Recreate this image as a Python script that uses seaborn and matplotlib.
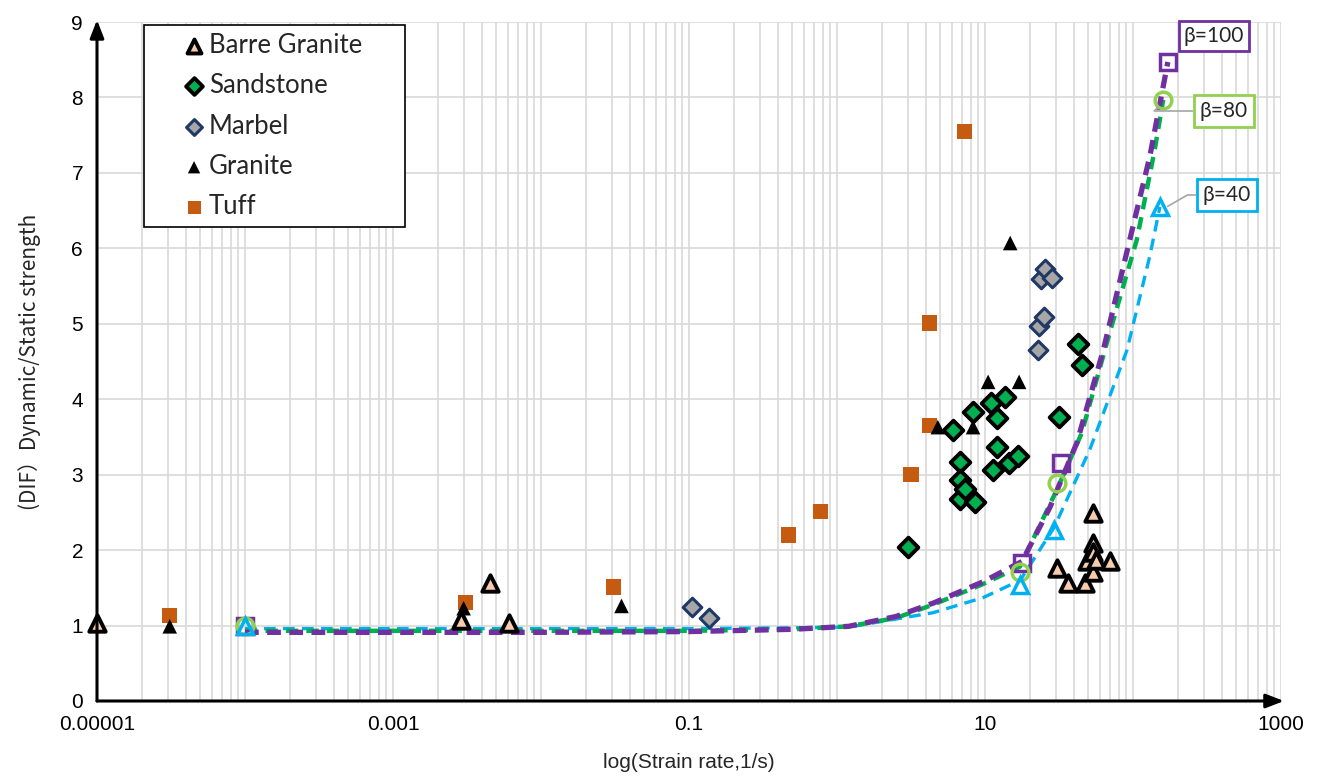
import matplotlib
matplotlib.use("Agg")
import matplotlib.pyplot as plt
import seaborn as sns
import numpy as np
import pandas as pd
from matplotlib.ticker import LogLocator, FixedLocator, NullFormatter, FixedFormatter
from matplotlib.legend_handler import HandlerPathCollection
from matplotlib.collections import PathCollection

# ---------------- data ----------------
barre_x = [1e-5, 0.0029, 0.0045, 0.0061, 30.7, 36.5, 47.5, 48.9, 53.7, 53.7, 53.7, 53.7, 56, 70]
barre_y = [1.03, 1.07, 1.56, 1.03, 1.76, 1.56, 1.56, 1.86, 2.49, 2.09, 1.98, 1.71, 1.87, 1.86]

sand_x = [3.0, 6.1, 6.8, 6.8, 6.8, 7.3, 8.3, 8.6, 11.0, 11.3, 12.0, 12.0, 13.6, 14.5, 16.6, 31.7, 42.5, 45.2]
sand_y = [2.04, 3.59, 3.17, 2.93, 2.68, 2.81, 3.83, 2.64, 3.95, 3.06, 3.75, 3.37, 4.03, 3.16, 3.25, 3.77, 4.73, 4.46]

marb_x = [0.105, 0.136, 22.9, 23.2, 24.0, 25.2, 25.4, 28.3]
marb_y = [1.25, 1.10, 4.65, 4.97, 5.60, 5.09, 5.72, 5.61]

gran_x = [3.1e-5, 0.0030, 0.035, 4.8, 8.3, 10.5, 14.8, 17.0]
gran_y = [0.99, 1.23, 1.26, 3.63, 3.63, 4.23, 6.07, 4.23]

tuff_x = [3.1e-5, 0.0031, 0.031, 0.47, 0.77, 3.16, 4.2, 4.2, 7.3]
tuff_y = [1.13, 1.31, 1.51, 2.20, 2.51, 3.00, 3.65, 5.01, 7.55]

b100_x = [1e-4, 1e-3, 1e-2, 0.1, 0.5, 1.2, 2.5, 4.5, 9.7, 17.8, 27.5, 41.7, 63, 95, 130, 172]
b100_y = [0.91, 0.91, 0.91, 0.92, 0.95, 0.99, 1.12, 1.30, 1.58, 1.85, 2.57, 3.42, 4.65, 6.11, 7.22, 8.47]
b80_x = [1e-4, 1e-3, 1e-2, 0.1, 0.5, 1.2, 2.5, 4.5, 9.7, 17.2, 30.6, 45, 70, 106, 140, 160]
b80_y = [0.93, 0.93, 0.93, 0.93, 0.95, 0.99, 1.10, 1.28, 1.55, 1.78, 2.80, 3.55, 4.90, 6.11, 7.30, 7.97]
b40_x = [1e-4, 1e-3, 1e-2, 0.1, 0.5, 1.2, 4.45, 9.7, 17.3, 29.3, 51, 91, 130, 152]
b40_y = [0.96, 0.96, 0.96, 0.96, 0.97, 0.98, 1.17, 1.37, 1.60, 2.30, 3.33, 4.65, 5.90, 6.55]

b100_mx = [1e-4, 17.8, 32.6, 172]
b100_my = [1.0, 1.83, 3.16, 8.47]
b80_mx = [1e-4, 17.2, 30.6, 160]
b80_my = [1.0, 1.71, 2.89, 7.97]
b40_mx = [1e-4, 17.3, 29.3, 152]
b40_my = [1.0, 1.54, 2.27, 6.55]

xtick_vals = [1e-5, 1e-3, 1e-1, 10, 1000]
xtick_labels = ["0.00001", "0.001", "0.1", "10", "1000"]
ytick_vals = list(range(0, 10))

# ---------------- style ----------------
sns.set_theme(style="white")
narrow = ['Liberation Sans Narrow', 'Liberation Sans', 'DejaVu Sans']
plt.rcParams['font.family'] = narrow

fig = plt.figure(figsize=(13.21, 7.81), dpi=100)
ax = fig.add_axes([97/1321, 1-701/781, (1281-97)/1321, (701-22)/781])
ax.set_xscale('log')
ax.set_xlim(1e-5, 1e3)
ax.set_ylim(0, 9)

# grid
ax.xaxis.set_minor_locator(LogLocator(base=10, subs=np.arange(2, 10), numticks=200))
ax.grid(True, which='major', axis='both', color='#D9D9D9', lw=1.2)
ax.grid(True, which='minor', axis='x', color='#D9D9D9', lw=1.2)
ax.set_axisbelow(True)

# curves
purple, green, lgreen, cyan = '#7030A0', '#00B050', '#92D050', '#00B0F0'
sns.lineplot(x=b40_x, y=b40_y, ax=ax, color=cyan, lw=2.4, sort=False, estimator=None,
             linestyle=(0, (3.5, 2.2)), zorder=3)
sns.lineplot(x=b80_x, y=b80_y, ax=ax, color=green, lw=3.2, sort=False, estimator=None,
             linestyle=(0, (2.8, 1.8)), zorder=3)
sns.lineplot(x=b100_x, y=b100_y, ax=ax, color=purple, lw=3.8, sort=False, estimator=None,
             linestyle=(0, (2.6, 1.6)), zorder=3)
ax.plot(b100_mx, b100_my, ls='none', marker='s', ms=12, mfc='none', mec=purple, mew=2.5, zorder=4)
ax.plot(b80_mx, b80_my, ls='none', marker='o', ms=12, mfc='none', mec=lgreen, mew=2.5, zorder=4)
ax.plot(b40_mx, b40_my, ls='none', marker='^', ms=12, mfc='none', mec=cyan, mew=2.5, zorder=4)

# scatter series
sns.scatterplot(x=tuff_x, y=tuff_y, ax=ax, marker='s', s=120, color='#C55A11', edgecolor='none',
                label='Tuff', zorder=5, clip_on=False)
sns.scatterplot(x=gran_x, y=gran_y, ax=ax, marker='^', s=110, color='black', edgecolor='none',
                label='Granite', zorder=5, clip_on=False)
sns.scatterplot(x=marb_x, y=marb_y, ax=ax, marker='D', s=90, color='#A6A6A6', edgecolor='#203864',
                linewidth=2.2, label='Marbel', zorder=5, clip_on=False)
sns.scatterplot(x=sand_x, y=sand_y, ax=ax, marker='D', s=100, color=green, edgecolor='black',
                linewidth=2.8, label='Sandstone', zorder=6, clip_on=False)
sns.scatterplot(x=barre_x, y=barre_y, ax=ax, marker='^', s=140, color='#F8CBAD', edgecolor='black',
                linewidth=2.8, label='Barre Granite', zorder=6, clip_on=False)


class RightMarkerHandler(HandlerPathCollection):
    def get_xdata(self, legend, xdescent, ydescent, width, height, fontsize):
        xd = [-xdescent + 0.8 * width]
        return xd, xd


# legend
handles, labels = ax.get_legend_handles_labels()
order = ['Barre Granite', 'Sandstone', 'Marbel', 'Granite', 'Tuff']
hmap = dict(zip(labels, handles))
x0 = (144 - 97) / (1281 - 97)
w = (405 - 144) / (1281 - 97)
y1 = (701 - 25) / (701 - 22)
leg = ax.legend([hmap[k] for k in order], order, loc='upper left',
                bbox_to_anchor=(x0, y1 - 0.3, w, 0.3), mode='expand',
                frameon=True, fancybox=False, framealpha=1, edgecolor='black',
                prop={'family': ['Lato', 'DejaVu Sans'], 'size': 18.5},
                handletextpad=0.16, labelspacing=0.6, borderpad=0.3, handlelength=2.06,
                borderaxespad=0, markerscale=0.85,
                handler_map={PathCollection: RightMarkerHandler()})
leg.get_frame().set_linewidth(1.2)
leg.set_zorder(10)

# ticks
ax.xaxis.set_major_locator(FixedLocator(xtick_vals))
ax.xaxis.set_major_formatter(FixedFormatter(xtick_labels))
ax.xaxis.set_minor_formatter(NullFormatter())
ax.set_yticks(ytick_vals)
ax.tick_params(axis='both', which='both', length=0, labelsize=15, colors='black')
ax.tick_params(axis='x', pad=10)
ax.tick_params(axis='y', pad=10)
for d in [1e-4, 1e-2, 1, 100]:
    ax.axvline(d, color='#D9D9D9', lw=1.2, zorder=0)

for s in ax.spines.values():
    s.set_visible(False)

# axes arrows
ax.annotate('', xy=(1.0025, 0), xytext=(0, 0), xycoords='axes fraction',
            arrowprops=dict(arrowstyle='-|>,head_length=0.9,head_width=0.35', lw=2.2, color='black',
                            shrinkA=0, shrinkB=0), zorder=7, annotation_clip=False)
ax.annotate('', xy=(0, 1.003), xytext=(0, 0), xycoords='axes fraction',
            arrowprops=dict(arrowstyle='-|>,head_length=0.9,head_width=0.35', lw=2.2, color='black',
                            shrinkA=0, shrinkB=0), zorder=7, annotation_clip=False)

ax.set_xlabel('log(Strain rate,1/s)', fontsize=15, labelpad=14)
ax.set_ylabel('(DIF）Dynamic/Static strength', fontsize=15, labelpad=22,
              family=['Liberation Sans Narrow', 'Noto Sans CJK SC', 'DejaVu Sans'])

# beta annotations
bfont = {'family': ['Lato', 'DejaVu Sans'], 'size': 15}
ax.annotate('β=100', xy=(172, 8.47), xytext=(1214, 781-36), textcoords='figure pixels',
            ha='center', va='center', **bfont,
            bbox=dict(boxstyle='square,pad=0.25', fc='white', ec=purple, lw=2), zorder=8)
ax.annotate('β=80', xy=(162, 7.95), xytext=(1224, 781-111), textcoords='figure pixels',
            ha='center', va='center', **bfont,
            bbox=dict(boxstyle='square,pad=0.3', fc='white', ec=lgreen, lw=2),
            arrowprops=dict(arrowstyle='-', color='#A6A6A6', lw=1.2,
                            connectionstyle='angle,angleA=0,angleB=45,rad=0', shrinkA=0, shrinkB=6),
            zorder=8)
ax.annotate('β=40', xy=(153, 6.5), xytext=(1227, 781-195), textcoords='figure pixels',
            ha='center', va='center', **bfont,
            bbox=dict(boxstyle='square,pad=0.3', fc='white', ec=cyan, lw=2),
            arrowprops=dict(arrowstyle='-', color='#A6A6A6', lw=1.2,
                            connectionstyle='angle,angleA=0,angleB=30,rad=0', shrinkA=0, shrinkB=6),
            zorder=8)

fig.savefig('out.png', dpi=100)
